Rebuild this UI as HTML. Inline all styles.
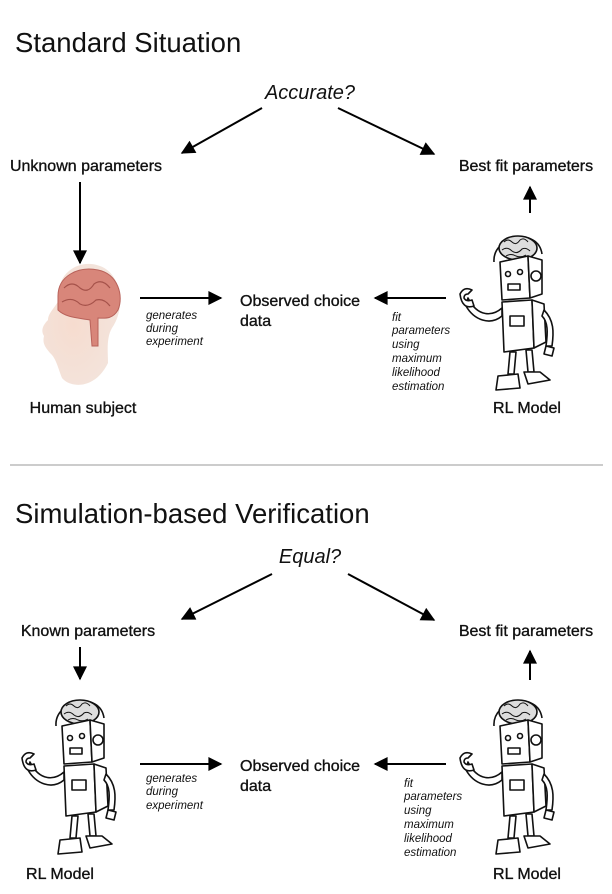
<!DOCTYPE html>
<html><head><style>
body{margin:0;background:#fff;width:612px;height:894px;overflow:hidden}
svg{display:block}
text{font-family:"Liberation Sans",sans-serif;fill:#111}
.t{font-size:27.5px}
.l{font-size:16px;stroke:#111;stroke-width:0.35}
.s{font-size:11.5px;font-style:italic}
.q{font-size:20px;font-style:italic}
</style></head><body>
<svg width="612" height="894" viewBox="0 0 612 894">
<defs>
<marker id="b" viewBox="0 0 10 10" markerWidth="16" markerHeight="14" refX="9" refY="5" orient="auto" markerUnits="userSpaceOnUse">
<path d="M0,0 L10,5 L0,10 z" fill="#000"/></marker>
<g id="robot" fill="#fff" stroke="#111" stroke-width="1.6" stroke-linejoin="round">
<path d="M36,34 C34,8 80,-2 84,26"/>
<ellipse cx="60" cy="20" rx="19" ry="12" fill="#ddd"/>
<path d="M46,14 q4,-4 8,0 q4,4 8,-2 q4,-3 8,2 M44,22 q5,-4 10,1 q5,4 10,-2 q4,-2 8,2 M48,28 q5,-3 10,0 q5,2 10,-1" fill="none" stroke-width="1"/>
<path d="M42,34 L70,28 L72,70 L44,72 z"/>
<path d="M70,28 L84,32 L84,66 L72,70 z"/>
<circle cx="78" cy="48" r="5"/>
<circle cx="50" cy="46" r="2.5"/><circle cx="62" cy="44" r="2.5"/>
<rect x="50" y="56" width="12" height="6"/>
<path d="M10,70 C20,90 35,88 44,80 L44,88 C32,98 16,92 8,78 z"/>
<path d="M2,66 q4,-8 12,-4 l-4,4 q-4,0 -4,4 q2,4 8,2 l2,6 q-12,4 -14,-12z"/>
<path d="M44,74 L74,72 L76,120 L46,124 z"/>
<path d="M74,72 L86,76 L88,114 L76,120 z"/>
<rect x="52" y="88" width="14" height="10"/>
<path d="M86,82 C96,92 96,104 94,118 L88,118 C90,104 90,94 84,88 z"/>
<path d="M88,118 l8,2 l-2,8 l-8,-2 z"/>
<path d="M52,124 L50,146 L56,146 L58,124 z M68,122 L70,144 L76,144 L74,122 z"/>
<path d="M40,148 L60,146 L62,160 L38,162 z"/>
<path d="M66,144 L82,144 L92,152 L70,156 z"/>
</g>
<radialGradient id="sk" cx="0.4" cy="0.5" r="0.6"><stop offset="0" stop-color="#f6dccf"/><stop offset="1" stop-color="#f3e4dc"/></radialGradient>
</defs>

<text class="t" x="15" y="52">Standard Situation</text>
<text class="q" x="310" y="99" text-anchor="middle">Accurate?</text>
<line x1="262" y1="108" x2="182" y2="153" stroke="#000" stroke-width="2" marker-end="url(#b)"/>
<line x1="338" y1="108" x2="434" y2="154" stroke="#000" stroke-width="2" marker-end="url(#b)"/>
<text class="l" x="86" y="171" text-anchor="middle">Unknown parameters</text>
<text class="l" x="526" y="171" text-anchor="middle">Best fit parameters</text>
<line x1="530" y1="213" x2="530" y2="187" stroke="#000" stroke-width="2" marker-end="url(#b)"/>

<g transform="translate(0,18)">
<path d="M60,280 C55,255 80,240 100,248 C122,256 126,290 112,310 C106,320 108,335 108,345 C95,372 70,370 62,360 C58,350 56,340 50,335 C46,330 42,326 44,318 C40,312 44,306 48,302 C48,295 55,290 60,280 z" fill="url(#sk)"/>
<path d="M58,278 C58,258 78,248 98,252 C118,256 124,278 118,292 C112,302 104,300 98,300 L98,328 L92,328 L90,302 C80,300 66,300 58,292 z" fill="#d8867a" stroke="#b8625a" stroke-width="1"/>
<path d="M64,270 q8,-8 16,0 q8,6 14,-4 q8,-6 16,4 M62,284 q10,-6 18,2 q8,4 16,-4 q8,-2 14,6" fill="none" stroke="#a5524a" stroke-width="1.2"/>
</g>
<line x1="80" y1="182" x2="80" y2="263" stroke="#000" stroke-width="2" marker-end="url(#b)"/>
<text class="l" x="83" y="413" text-anchor="middle">Human subject</text>

<line x1="140" y1="298" x2="221" y2="298" stroke="#000" stroke-width="2" marker-end="url(#b)"/>
<text class="s" x="146" y="319">generates</text>
<text class="s" x="146" y="332">during</text>
<text class="s" x="146" y="345">experiment</text>
<text class="l" x="240" y="306">Observed choice</text>
<text class="l" x="240" y="326">data</text>
<line x1="446" y1="298" x2="375" y2="298" stroke="#000" stroke-width="2" marker-end="url(#b)"/>
<text class="s" x="392" y="321">fit</text>
<text class="s" x="392" y="334">parameters</text>
<text class="s" x="392" y="348">using</text>
<text class="s" x="392" y="362">maximum</text>
<text class="s" x="392" y="376">likelihood</text>
<text class="s" x="392" y="390">estimation</text>
<use href="#robot" x="458" y="228"/>
<text class="l" x="527" y="413" text-anchor="middle">RL Model</text>

<line x1="10" y1="465" x2="603" y2="465" stroke="#bbb" stroke-width="1.5"/>

<text class="t" x="15" y="523">Simulation-based Verification</text>
<text class="q" x="310" y="563" text-anchor="middle">Equal?</text>
<line x1="272" y1="574" x2="182" y2="619" stroke="#000" stroke-width="2" marker-end="url(#b)"/>
<line x1="348" y1="574" x2="434" y2="620" stroke="#000" stroke-width="2" marker-end="url(#b)"/>
<text class="l" x="88" y="636" text-anchor="middle">Known parameters</text>
<text class="l" x="526" y="636" text-anchor="middle">Best fit parameters</text>
<line x1="80" y1="647" x2="80" y2="679" stroke="#000" stroke-width="2" marker-end="url(#b)"/>
<line x1="530" y1="680" x2="530" y2="651" stroke="#000" stroke-width="2" marker-end="url(#b)"/>
<use href="#robot" x="20" y="692"/>
<use href="#robot" x="458" y="692"/>
<line x1="140" y1="764" x2="221" y2="764" stroke="#000" stroke-width="2" marker-end="url(#b)"/>
<text class="s" x="146" y="782">generates</text>
<text class="s" x="146" y="795">during</text>
<text class="s" x="146" y="809">experiment</text>
<text class="l" x="240" y="771">Observed choice</text>
<text class="l" x="240" y="791">data</text>
<line x1="446" y1="764" x2="375" y2="764" stroke="#000" stroke-width="2" marker-end="url(#b)"/>
<text class="s" x="404" y="787">fit</text>
<text class="s" x="404" y="800">parameters</text>
<text class="s" x="404" y="814">using</text>
<text class="s" x="404" y="828">maximum</text>
<text class="s" x="404" y="842">likelihood</text>
<text class="s" x="404" y="856">estimation</text>
<text class="l" x="60" y="879" text-anchor="middle">RL Model</text>
<text class="l" x="527" y="879" text-anchor="middle">RL Model</text>
</svg>
</body></html>
